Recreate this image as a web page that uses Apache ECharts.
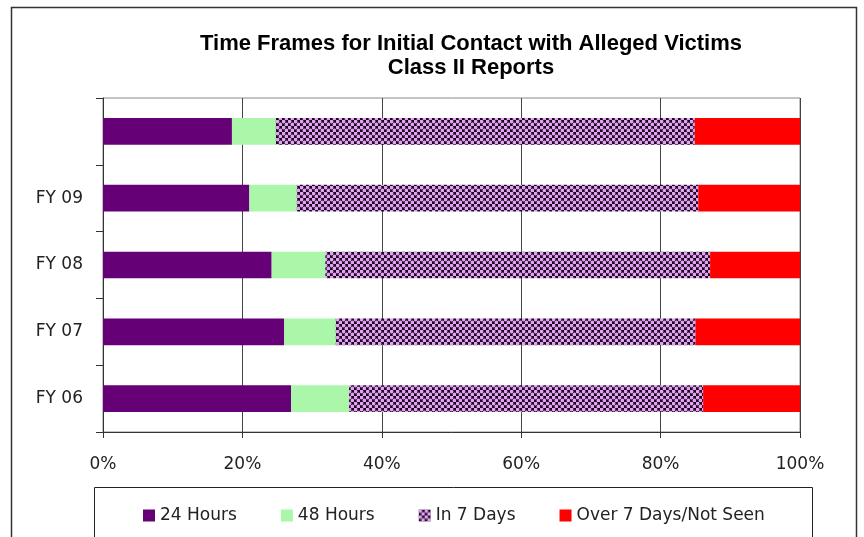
<!DOCTYPE html>
<html>
<head>
<meta charset="utf-8">
<title>Time Frames for Initial Contact with Alleged Victims</title>
<script src="https://cdn.jsdelivr.net/npm/echarts@6/dist/echarts.min.js"></script>
<style>
  html, body { margin: 0; padding: 0; background: #fff; }
  #chart { width: 864px; height: 537px; }
</style>
</head>
<body>
<div id="chart"></div>
<script>
// data (percent of reports)
const categories = ['FY 06', 'FY 07', 'FY 08', 'FY 09', ''];
const hours24 = [27.0, 26.0, 24.2, 21.0, 18.5];
const hours48 = [8.3, 7.4, 7.7, 6.8, 6.3];
const days7 = [50.8, 51.6, 55.2, 57.6, 60.1];
const over7 = [13.9, 15.0, 12.9, 14.6, 15.1];
const xTicks = [0, 20, 40, 60, 80, 100];

const font = 'DejaVu Sans';

// dotted pattern for "In 7 Days"
const makePattern = () => {
  const c = document.createElement('canvas');
  c.width = 6;
  c.height = 6;
  const ctx = c.getContext('2d');
  ctx.fillStyle = '#1c0822';
  ctx.fillRect(0, 0, 6, 6);
  ctx.fillStyle = '#e2a4f0';
  [[1.5, 1.5], [4.5, 4.5]].forEach(([x, y]) => {
    ctx.beginPath();
    ctx.arc(x, y, 1.9, 0, Math.PI * 2);
    ctx.fill();
  });
  return c;
};

const chart = echarts.init(document.getElementById('chart'));

const option = {
  animation: false,
  title: {
    text: 'Time Frames for Initial Contact with Alleged Victims\nClass II Reports',
    left: 466,
    top: 27,
    textAlign: 'center',
    textStyle: {
      fontFamily: 'Liberation Sans',
      fontWeight: 'bold',
      fontSize: 22,
      lineHeight: 24,
      color: '#000'
    }
  },
  graphic: [
    {
      type: 'rect',
      shape: { x: 11.5, y: 7.5, width: 845, height: 545 },
      style: { fill: 'none', stroke: '#333', lineWidth: 1.5 },
      silent: true
    },
    {
      type: 'rect',
      shape: { x: 94.5, y: 487.5, width: 718, height: 60 },
      style: { fill: 'none', stroke: '#222', lineWidth: 1 },
      silent: true
    }
  ],
  legend: {
    left: 138,
    top: 502,
    itemWidth: 12,
    itemHeight: 12,
    itemGap: 44,
    icon: 'rect',
    textStyle: { fontFamily: font, fontSize: 17, color: '#222' },
    data: ['24 Hours', '48 Hours', 'In 7 Days', 'Over 7 Days/Not Seen']
  },
  grid: {
    left: 103,
    right: 64,
    top: 98,
    bottom: 105,
    show: true,
    borderColor: '#888',
    borderWidth: 1
  },
  xAxis: {
    type: 'value',
    min: 0,
    max: 100,
    interval: 20,
    axisLine: { show: true, lineStyle: { color: '#333' } },
    axisTick: { show: true, length: 6, lineStyle: { color: '#333' } },
    splitLine: { lineStyle: { color: '#444' } },
    axisLabel: {
      margin: 24,
      fontFamily: font,
      fontSize: 17,
      color: '#222',
      formatter: (v) => (xTicks.includes(v) ? v + '%' : '')
    }
  },
  yAxis: {
    type: 'category',
    data: categories,
    axisLine: { lineStyle: { color: '#333' } },
    axisTick: { show: true, length: 7, lineStyle: { color: '#333' } },
    axisLabel: { margin: 20, fontFamily: font, fontSize: 17, color: '#222' }
  },
  series: [
    { name: '24 Hours', type: 'bar', stack: 'all', barWidth: '40%', data: hours24, itemStyle: { color: '#660077' } },
    { name: '48 Hours', type: 'bar', stack: 'all', data: hours48, itemStyle: { color: '#aaf7aa' } },
    { name: 'In 7 Days', type: 'bar', stack: 'all', data: days7, itemStyle: { color: { image: makePattern(), repeat: 'repeat' } } },
    { name: 'Over 7 Days/Not Seen', type: 'bar', stack: 'all', data: over7, itemStyle: { color: '#ff0000' } }
  ]
};

chart.setOption(option);
</script>
</body>
</html>
